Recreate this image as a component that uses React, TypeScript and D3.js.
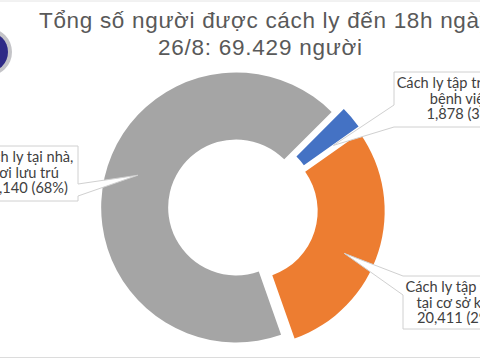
import React from "react";
import * as d3 from "d3";

const titleLines = ["Tổng số người được cách ly đến 18h ngày", "26/8: 69.429 người"];
const categories = [
  "Cách ly tập trung tại bệnh viện",
  "Cách ly tập trung tại cơ sở khác",
  "Cách ly tại nhà, nơi lưu trú",
];
const labelLines = [
  ["Cách ly tập trung tại", "bệnh viện"],
  ["Cách ly tập trung", "tại cơ sở khác"],
  ["Cách ly tại nhà,", "nơi lưu trú"],
];
const values = [1878, 20411, 47140];
const colors = ["#4472C4", "#ED7D31", "#A5A5A5"];

// title line layout (start x, length)
const titleLayout = [
  { x: 39, len: 452, y: 28 },
  { x: 158, len: 204, y: 55 },
];

// layout for callout boxes
const boxLayout = [
  { cx: 461, top: 72, w: 134, h: 55, side: "left", b1: 33, b2: 55, tipDa: 5 },
  { cx: 460, top: 276, w: 114, h: 53, side: "left", b1: 0, b2: 19, tipDa: 6 },
  { cx: 25, top: 146, w: 106, h: 55, side: "right", b1: 38, b2: 50, tipDa: 5 },
];

const W = 480;
const H = 360;
const cx = 243;
const cy = 209;
const R = 135;
const r = 68;
const explode = 7;

export default function App() {
  const total = d3.sum(values);
  const pie = d3
    .pie<number>()
    .sort(null)
    .value((d) => d)
    .startAngle((45 * Math.PI) / 180)
    .endAngle((45 * Math.PI) / 180 + 2 * Math.PI);
  const arcs = pie(values);
  const arcGen = d3.arc<d3.PieArcDatum<number>>().innerRadius(r).outerRadius(R);
  const fmt = d3.format(",");

  return (
    <svg
      width={W}
      height={H}
      style={{ position: "absolute", left: 0, top: 0, background: "#fff" }}
    >
      <rect x={0} y={0} width={W} height={H} fill="#fff" />
      <line x1={0} x2={W} y1={1} y2={1} stroke="#e4e4e4" strokeWidth={1} />
      <line x1={0} x2={W} y1={357.5} y2={357.5} stroke="#dcdcdc" strokeWidth={1} />
      {/* logo fragment */}
      <circle cx={-12} cy={52} r={24} fill="#c4c4c8" />
      <circle cx={-12} cy={52} r={20} fill="#2e2a86" />
      {titleLines.map((t, i) => (
        <text
          key={i}
          x={titleLayout[i].x}
          y={titleLayout[i].y}
          textLength={titleLayout[i].len}
          lengthAdjust="spacing"
          fontFamily="Liberation Sans, Arial, sans-serif"
          fontSize={22.5}
          fill="#595959"
        >
          {t}
        </text>
      ))}
      {arcs.map((a, i) => {
        const mid = (a.startAngle + a.endAngle) / 2;
        const dx = explode * Math.sin(mid);
        const dy = -explode * Math.cos(mid);
        return (
          <path
            key={categories[i]}
            d={arcGen(a) || ""}
            transform={`translate(${cx + dx},${cy + dy})`}
            fill={colors[i]}
          />
        );
      })}
      {arcs.map((a, i) => {
        const L = boxLayout[i];
        const mid = (a.startAngle + a.endAngle) / 2 + (L.tipDa * Math.PI) / 180;
        const tr = (R + r) / 2 + explode + 2;
        const tx = cx + tr * Math.sin(mid);
        const ty = cy - tr * Math.cos(mid);
        const x0 = L.cx - L.w / 2;
        const x1 = L.cx + L.w / 2;
        const y0 = L.top;
        const y1 = L.top + L.h;
        let d: string;
        if (L.side === "left") {
          d = `M${x0},${y0 + L.b1} L${tx},${ty} L${x0},${y0 + L.b2} V${y1} H${x1} V${y0} H${x0} Z`;
        } else {
          d = `M${x1},${y0 + L.b1} L${tx},${ty} L${x1},${y0 + L.b2} V${y1} H${x0} V${y0} H${x1} Z`;
        }
        const lines = [...labelLines[i], `${fmt(values[i])} (${Math.round((values[i] / total) * 100)}%)`];
        return (
          <g key={"lab" + i}>
            <path d={d} fill="#fff" stroke="#d0d0d0" strokeWidth={1} />
            {lines.map((t, j) => (
              <text
                key={j}
                x={L.cx}
                y={L.top + 16 + j * 15.5}
                textAnchor="middle"
                fontFamily="Lato, Open Sans, sans-serif"
                fontSize={14.6}
                fill="#404040"
              >
                {t}
              </text>
            ))}
          </g>
        );
      })}
    </svg>
  );
}
